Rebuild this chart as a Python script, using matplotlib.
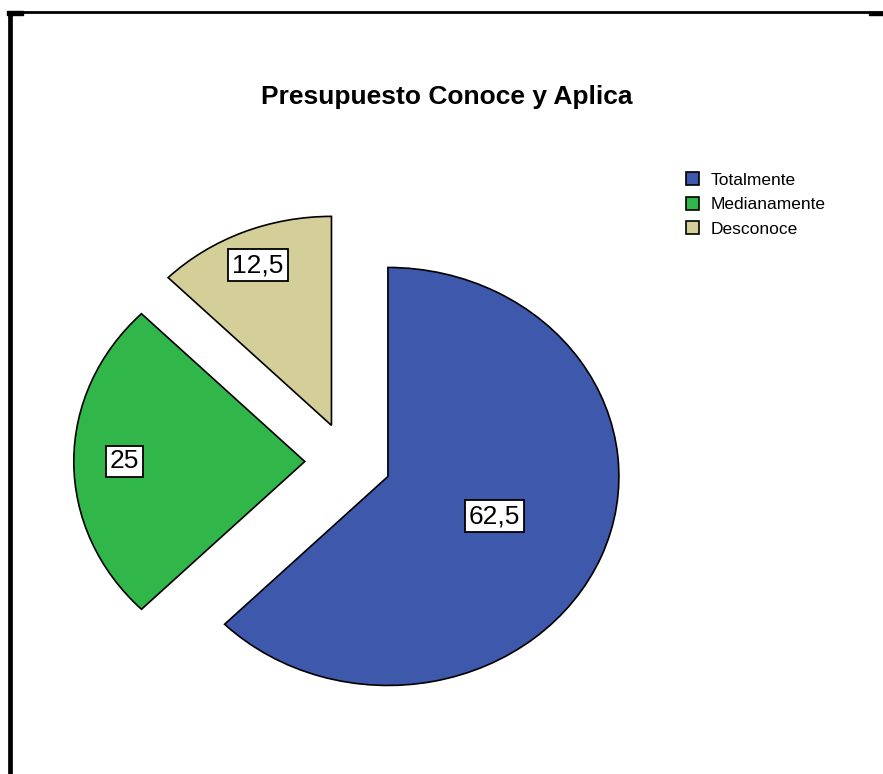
import numpy as np
import matplotlib
matplotlib.use("Agg")
import matplotlib.pyplot as plt
from matplotlib.lines import Line2D
from matplotlib.patches import Rectangle

plt.rcParams['font.family'] = ['Liberation Sans', 'DejaVu Sans']

title = "Presupuesto Conoce y Aplica"
categorias = ["Totalmente", "Medianamente", "Desconoce"]
porcentajes = [62.5, 25, 12.5]
colores = ["#3E58AB", "#31B64A", "#D4CF99"]

W, H = 883, 774
fig = plt.figure(figsize=(W / 100, H / 100), dpi=100)


def px(x, y):
    # pixel coords (from top-left) -> figure fraction
    return x / W, 1 - y / H


# pie centre and radii in pixels (the pie is drawn as an ellipse)
cx, cy = 348, 461.5
rx, ry = 231, 209

ax = fig.add_axes([0, 0, 1, 1])
wedges, _ = ax.pie(porcentajes, colors=colores, startangle=90, counterclock=False,
                   explode=[0.187] * 3, radius=1,
                   wedgeprops=dict(edgecolor="black", linewidth=1.2))
ax.set_aspect("auto")
ax.set_xlim(-cx / rx, (W - cx) / rx)
ax.set_ylim(-(H - cy) / ry, cy / ry)
ax.axis("off")

# value boxes
dist = [0.5, 0.78, 0.83]
for w, v, d in zip(wedges, porcentajes, dist):
    ang = np.deg2rad((w.theta1 + w.theta2) / 2)
    x = w.center[0] + d * np.cos(ang)
    y = w.center[1] + d * np.sin(ang)
    txt = f"{v:g}".replace(".", ",")
    ax.text(x, y, txt, ha="center", va="center", fontsize=19,
            bbox=dict(boxstyle="square,pad=0.15", fc="white", ec="black", lw=1.3))

fig.text(*px(447, 97), title, ha="center", va="center",
         fontsize=19, fontweight="bold")

leg = fig.legend(wedges, categorias, loc="upper left",
                 bbox_to_anchor=px(679, 165), frameon=False,
                 fontsize=12.5, handlelength=0.78, handleheight=0.78,
                 handletextpad=0.62, labelspacing=0.52, borderaxespad=0)

# outer frame
fig.add_artist(Line2D([9.5 / W, 9.5 / W], [0, 1 - 11 / H], color="black",
                      lw=3.4, transform=fig.transFigure, solid_capstyle="butt"))
fig.add_artist(Line2D([7 / W, 1], [1 - 12 / H, 1 - 12 / H], color="black",
                      lw=2.0, transform=fig.transFigure, solid_capstyle="butt"))
fig.add_artist(Rectangle(px(7, 15), 16 / W, 4 / H, color="black",
                         transform=fig.transFigure))
fig.add_artist(Rectangle(px(869, 15), 14 / W, 3 / H, color="black",
                         transform=fig.transFigure))

fig.savefig("out.png", dpi=100)
